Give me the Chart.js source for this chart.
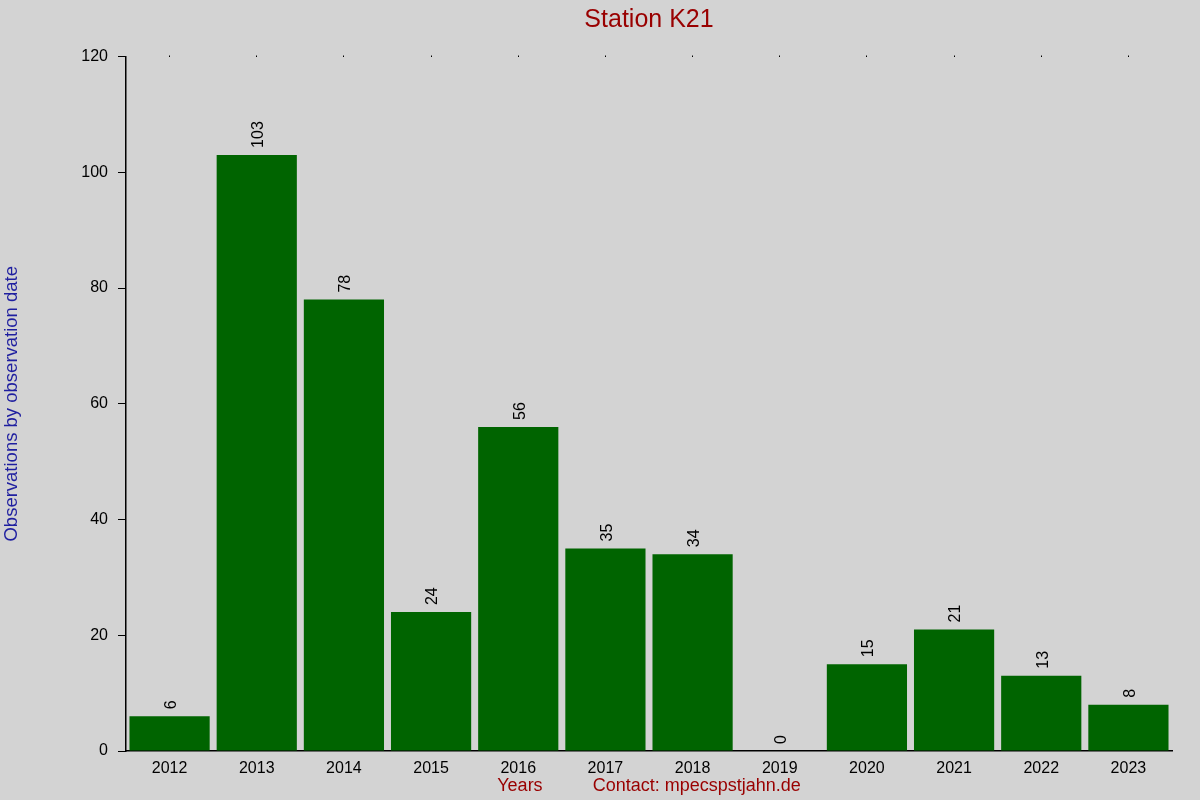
<!DOCTYPE html>
<html>
<head>
<meta charset="utf-8">
<script src="https://cdn.jsdelivr.net/npm/chart.js@4"></script>
<style>
    html, body { margin: 0; padding: 0; background: #d3d3d3; }
    #wrap { width: 1200px; height: 800px; }
</style>
</head>
<body>
<div id="wrap"><canvas id="stationChart"></canvas></div>
<script>
const years = ['2012', '2013', '2014', '2015', '2016', '2017', '2018', '2019', '2020', '2021', '2022', '2023'];
const observations = [6, 103, 78, 24, 56, 35, 34, 0, 15, 21, 13, 8];
const yTicks = [0, 20, 40, 60, 80, 100, 120];

const FONT = "'Liberation Sans', Arial, sans-serif";

const backgroundPlugin = {
    id: 'background',
    beforeDraw(chart) {
        const ctx = chart.ctx;
        ctx.save();
        ctx.fillStyle = '#d3d3d3';
        ctx.fillRect(0, 0, chart.width, chart.height);
        ctx.restore();
    }
};

// rotated value above each bar
const valueLabels = {
    id: 'valueLabels',
    afterDatasetsDraw(chart) {
        const ctx = chart.ctx;
        const meta = chart.getDatasetMeta(0);
        ctx.save();
        ctx.font = '16px ' + FONT;
        ctx.fillStyle = '#000';
        ctx.textAlign = 'left';
        ctx.textBaseline = 'middle';
        meta.data.forEach((bar, i) => {
            ctx.save();
            ctx.translate(bar.x + 2, bar.y - 7);
            ctx.rotate(-Math.PI / 2);
            ctx.fillText(String(observations[i]), 0, 0);
            ctx.restore();
        });
        ctx.restore();
    }
};

new Chart(document.getElementById('stationChart'), {
    type: 'bar',
    data: {
        labels: years,
        datasets: [{
            data: observations,
            backgroundColor: '#006400',
            borderWidth: 0,
            barPercentage: 0.92,
            categoryPercentage: 1
        }]
    },
    options: {
        responsive: true,
        maintainAspectRatio: false,
        animation: false,
        layout: {
            padding: { top: 0, right: 28, bottom: 0, left: 0 }
        },
        plugins: {
            legend: { display: false },
            tooltip: { enabled: false },
            title: {
                display: true,
                fullSize: false,
                text: 'Station K21',
                color: '#990000',
                font: { family: FONT, size: 25, weight: 'normal' },
                padding: { top: 5, bottom: 0 }
            }
        },
        scales: {
            x: {
                position: 'bottom',
                grid: { display: false },
                border: { display: true, color: '#000', width: 1.5 },
                ticks: {
                    color: '#000',
                    font: { family: FONT, size: 16 },
                    padding: 0,
                    maxRotation: 0
                },
                title: {
                    display: true,
                    text: 'Years          Contact: mpecspstjahn.de',
                    color: '#990000',
                    font: { family: FONT, size: 18 },
                    padding: { top: 0, bottom: 3 }
                },
                afterFit(scale) { scale.height = 49; }
            },
            x2: {
                type: 'category',
                labels: years,
                position: 'top',
                offset: true,
                grid: {
                    display: true,
                    drawOnChartArea: false,
                    tickLength: 1,
                    color: '#000',
                    offset: false
                },
                border: { display: false },
                ticks: { display: false },
                afterFit(scale) { scale.height = 21.5; }
            },
            y: {
                min: 0,
                max: 120,
                afterBuildTicks(scale) {
                    scale.ticks = yTicks.map(v => ({ value: v }));
                },
                grid: {
                    display: true,
                    drawOnChartArea: false,
                    tickLength: 8,
                    color: '#000'
                },
                border: { display: true, color: '#000', width: 1.5 },
                ticks: {
                    color: '#000',
                    font: { family: FONT, size: 16 },
                    padding: 10
                },
                title: {
                    display: true,
                    text: 'Observations by observation date',
                    color: '#1f1fa0',
                    font: { family: FONT, size: 18.5 },
                    padding: { top: 1, bottom: 0 }
                },
                afterFit(scale) { scale.width = 126; }
            }
        }
    },
    plugins: [backgroundPlugin, valueLabels]
});
</script>
</body>
</html>
